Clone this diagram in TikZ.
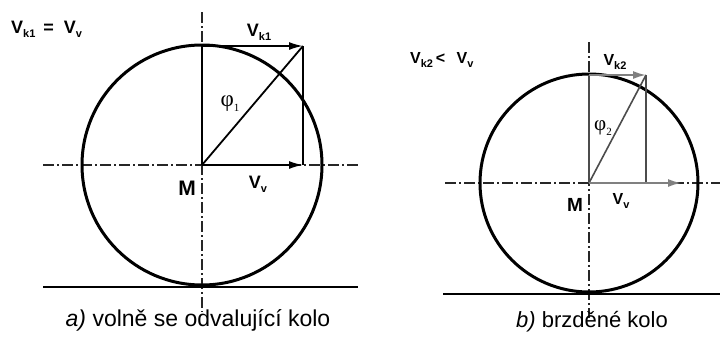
\documentclass[tikz,border=0pt]{standalone}
\usepackage{fontspec}
\setmainfont{Liberation Sans}
\newfontfamily\greekfont{Liberation Serif}
\usepackage{xcolor}
\usetikzlibrary{arrows.meta,calc,positioning}
\newcommand{\lowsub}[1]{\raisebox{-0.45ex}{\fontsize{11}{11}\selectfont #1}}
\tikzset{
  wheel/.style={line width=3pt,draw=black},
  ground/.style={line width=1.8pt,draw=black},
  axisline/.style={line width=1.1pt,draw=black!85,dash pattern=on 11pt off 3pt on 2pt off 3pt},
  vecline/.style={line width=1.8pt,draw=black},
  vecarrow/.style={-{Latex[length=14pt,width=8pt]},line width=1.8pt,draw=black},
  greyline/.style={line width=1.6pt,draw=black!70},
  greyarrow/.style={-{Latex[length=13pt,width=8pt]},line width=1.8pt,draw=black!50,fill=black!50},
  veclabel/.style={font=\fontsize{18}{18}\selectfont\bfseries,inner sep=1pt},
  pointlabel/.style={font=\fontsize{21}{21}\selectfont\bfseries,inner sep=1pt},
  anglabel/.style={font=\fontsize{23}{23}\selectfont\greekfont,inner sep=1pt},
  caption/.style={font=\fontsize{23}{23}\selectfont,inner sep=0pt}
}
\begin{document}
\begin{tikzpicture}[x=1pt,y=-1pt]
  \useasboundingbox[fill=white] (0,0) rectangle (720,338);
  % a) freely rolling wheel
  \coordinate (M1) at (202,165);
  \coordinate (T1) at (202,46);
  \coordinate (P1) at (303,46);
  \coordinate (Q1) at (303,165);
  \draw[axisline] (202,12) -- (202,312);
  \draw[axisline] (43,165) -- (358,165);
  \draw[wheel] (M1) circle[radius=120];
  \draw[ground] (43,287) -- (358,287);
  \draw[vecline] (M1) -- (T1);
  \draw[vecline] (M1) -- (P1);
  \draw[vecline] (P1) -- (Q1);
  \draw[vecarrow] (T1) -- (P1);
  \draw[vecarrow] (M1) -- (Q1);
  \node[veclabel,anchor=west] (eqA) at (10,29) {V\lowsub{k1}\ \,=\ \ V\lowsub{v}};
  \node[veclabel] (vkA) at (259,32) {V\lowsub{k1}};
  \node[anglabel] (phiA) at (230,104) {φ\lowsub{1}};
  \node[pointlabel] (mA) at (187,188) {M};
  \node[veclabel] (vvA) at (258,184) {V\lowsub{v}};
  \node[caption] (capA) at (198,320) {\textit{a)} volně se odvalující kolo};
  % b) braked wheel
  \coordinate (M2) at (589,183);
  \coordinate (T2) at (589,75);
  \coordinate (P2) at (646,75);
  \coordinate (Q2) at (646,183);
  \coordinate (R2) at (681,183);
  \draw[axisline] (589,42) -- (589,318);
  \draw[axisline] (445,183) -- (720,183);
  \draw[wheel] (M2) circle[radius=109];
  \draw[ground] (443,294) -- (720,294);
  \draw[greyline] (M2) -- (T2);
  \draw[greyline] (M2) -- (P2);
  \draw[greyline] (P2) -- (Q2);
  \draw[greyarrow] (T2) -- (P2);
  \draw[greyarrow] (M2) -- (R2);
  \node[veclabel,anchor=west,font=\fontsize{16}{16}\selectfont\bfseries] (eqB) at (409,60) {V\lowsub{k2}\,<\ \ \,V\lowsub{v}};
  \node[veclabel,font=\fontsize{16}{16}\selectfont\bfseries] (vkB) at (615,62) {V\lowsub{k2}};
  \node[anglabel,font=\fontsize{21}{21}\selectfont\greekfont] (phiB) at (603,128) {φ\lowsub{2}};
  \node[pointlabel,font=\fontsize{19}{19}\selectfont\bfseries] (mB) at (575,205) {M};
  \node[veclabel,font=\fontsize{16}{16}\selectfont\bfseries] (vvB) at (621,201) {V\lowsub{v}};
  \node[caption,font=\fontsize{22}{22}\selectfont] (capB) at (592,322) {\textit{b)} brzděné kolo};
\end{tikzpicture}
\end{document}
